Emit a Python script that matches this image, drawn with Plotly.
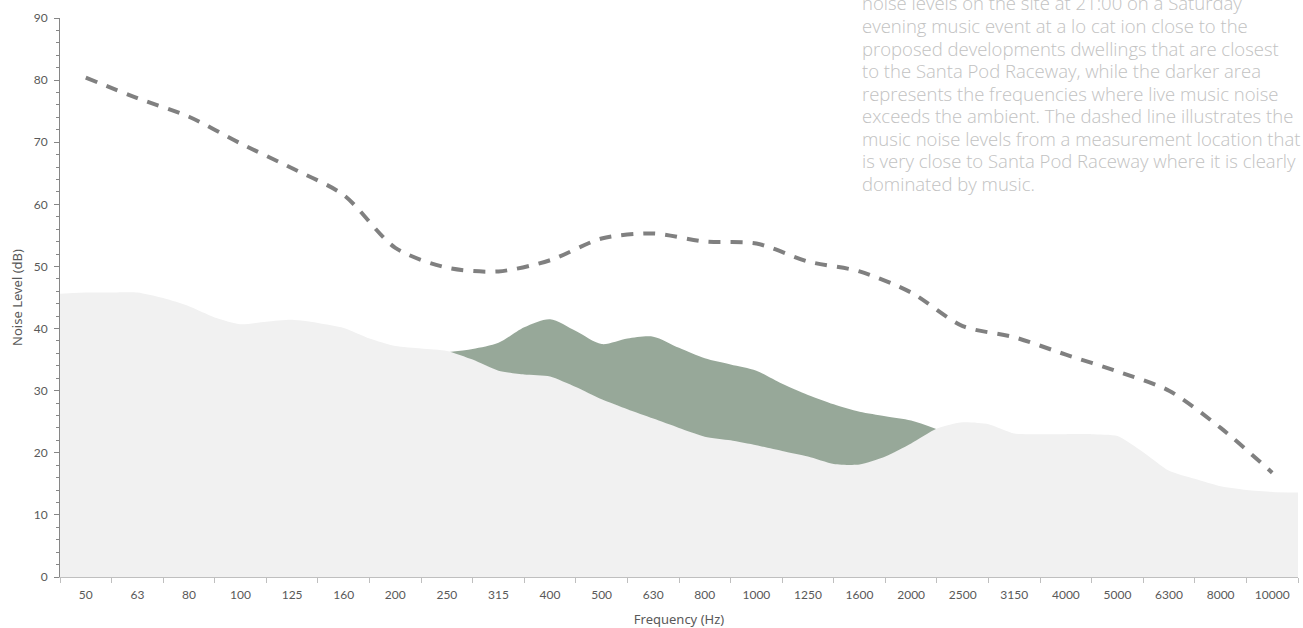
import numpy as np
import plotly.graph_objects as go

# 1/3-octave band labels (Hz)
bands = ["50", "63", "80", "100", "125", "160", "200", "250", "315", "400", "500", "630",
         "800", "1000", "1250", "1600", "2000", "2500", "3150", "4000", "5000", "6300", "8000", "10000"]

# ambient noise (dB), read at half-band steps from the lower band edge of 50 Hz to the upper edge of 10 kHz
ambient_db = [45.6, 45.8, 45.8, 45.8, 44.9, 43.6, 41.8, 40.7, 41.1, 41.4, 40.9, 40.1, 38.4,
              37.2, 36.8, 36.4, 35.0, 33.2, 32.6, 32.3, 30.6, 28.6, 27.0, 25.5, 24.0, 22.6,
              22.0, 21.2, 20.3, 19.4, 18.2, 18.1, 19.4, 21.5, 23.9, 24.9, 24.6, 23.1, 23.0,
              23.0, 23.0, 22.7, 20.1, 17.1, 15.8, 14.6, 14.0, 13.7, 13.6]

# live music on site (dB), half-band steps from 250 Hz to the 2240 Hz band edge
music_start_band = "250"
music_db = [36.2, 36.7, 37.7, 40.2, 41.5, 39.6, 37.5, 38.4, 38.7, 36.9, 35.2, 34.2,
            33.2, 31.1, 29.3, 27.8, 26.6, 25.9, 25.2, 23.8]

# music measured close to Santa Pod Raceway (dB), one value per band
raceway_db = [80.4, 77.1, 74.1, 69.8, 65.8, 61.5, 53.0, 49.8, 49.2, 51.0, 54.5, 55.3,
              54.0, 53.7, 50.8, 49.2, 45.8, 40.4, 38.6, 35.8, 33.1, 30.0, 24.0, 16.8]

note_lines = [
    "noise levels on the site at 21:00 on a Saturday",
    "evening music event at a lo cat ion close to the",
    "proposed developments dwellings that are closest",
    "to the Santa Pod Raceway, while the darker area",
    "represents the frequencies where live music noise",
    "exceeds the ambient. The dashed line illustrates the",
    "music noise levels from a measurement location that",
    "is very close to Santa Pod Raceway where it is clearly",
    "dominated by music.",
]

band_idx = np.arange(len(bands))
amb_x = -0.5 + 0.5 * np.arange(len(ambient_db))
m0 = bands.index(music_start_band)
music_x = m0 + 0.5 * np.arange(len(music_db))

fig = go.Figure()
fig.add_trace(go.Scatter(x=music_x, y=music_db, mode="lines", fill="tozeroy",
                         line=dict(width=0, color="#97a899", shape="spline", smoothing=0.8),
                         fillcolor="#97a899", hoverinfo="skip", showlegend=False))
fig.add_trace(go.Scatter(x=amb_x, y=ambient_db, mode="lines", fill="tozeroy",
                         line=dict(width=0, color="#f1f1f1", shape="spline", smoothing=0.6),
                         fillcolor="#f1f1f1", hoverinfo="skip", showlegend=False))
fig.add_trace(go.Scatter(x=band_idx, y=raceway_db, mode="lines",
                         line=dict(width=4, color="#808080", dash="12px,10px",
                                   shape="spline", smoothing=0.8),
                         showlegend=False))

# note text, one annotation per line (first line centre ~3 px from top, 22.5 px line pitch)
plot_top, plot_h = 18, 559
for i, ln in enumerate(note_lines):
    ypx = 3 + 22.5 * i
    fig.add_annotation(text=ln, xref="paper", yref="paper",
                       x=(860 - 60) / 1238, y=(plot_top + plot_h - ypx) / plot_h,
                       xanchor="left", yanchor="middle", align="left", showarrow=False,
                       font=dict(family="Open Sans", size=18.5, color="#c2c2c2", weight=300))

fig.update_layout(
    width=1303, height=628,
    margin=dict(l=60, r=5, t=18, b=51),
    plot_bgcolor="white", paper_bgcolor="white",
    font=dict(family="Lato", size=12, color="#595959"),
    xaxis=dict(range=[-0.5, len(bands) - 0.5], tickmode="array", tickvals=band_idx, ticktext=bands,
               ticks="", showgrid=False, zeroline=False, showline=True, linecolor="#bfbfbf",
               linewidth=1, ticklabelstandoff=7, automargin=False,
               minor=dict(tickmode="array", tickvals=list(np.arange(-0.5, len(bands), 1.0)),
                          ticks="outside", ticklen=5, tickcolor="#bfbfbf", showgrid=False),
               title=dict(text="Frequency (Hz)", standoff=14,
                          font=dict(family="Noto Sans", size=13, color="#595959"))),
    yaxis=dict(range=[0, 90], dtick=10, ticks="outside", ticklen=5, tickcolor="#868686",
               showgrid=False, zeroline=False, showline=True, linecolor="#868686", linewidth=1,
               ticklabelstandoff=4, automargin=False,
               minor=dict(dtick=2, ticks="outside", ticklen=3, tickcolor="#868686", showgrid=False),
               title=dict(text="Noise Level (dB)", standoff=8,
                          font=dict(family="Noto Sans", size=13, color="#595959"))),
)

fig.write_html("out.html")
